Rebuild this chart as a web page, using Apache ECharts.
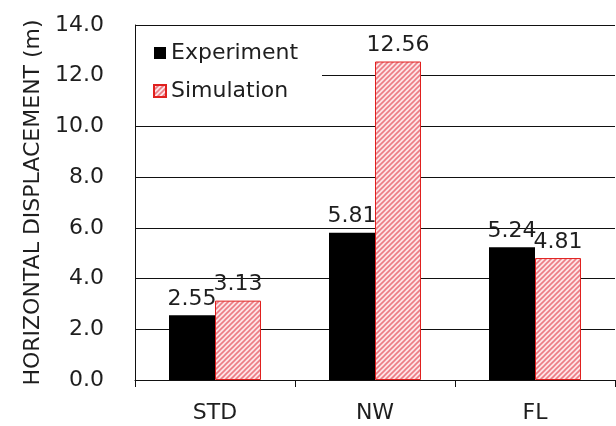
<!DOCTYPE html>
<html><head><meta charset="utf-8">
<script src="https://cdn.jsdelivr.net/npm/echarts@6/dist/echarts.min.js"></script>
<style>html,body{margin:0;padding:0;background:#fff}#c{width:616px;height:426px}</style>
</head><body><div id="c"></div>
<script>
var categories = ['STD', 'NW', 'FL'];
var experiment = [2.55, 5.81, 5.24];
var simulation = [3.13, 12.56, 4.81];
var yTicks = [0, 2, 4, 6, 8, 10, 12, 14];

var FONT = 'DejaVu Sans';
var TXT = '#1e1e1e';

function hatch() {
  var s = 5;
  var c = document.createElement('canvas');
  c.width = s; c.height = s;
  var g = c.getContext('2d');
  g.fillStyle = '#fde4e6';
  g.fillRect(0, 0, s, s);
  g.strokeStyle = '#ec7c84';
  g.lineWidth = 1.6;
  g.beginPath();
  g.moveTo(0, s); g.lineTo(s, 0);
  g.moveTo(-1, 1); g.lineTo(1, -1);
  g.moveTo(s - 1, s + 1); g.lineTo(s + 1, s - 1);
  g.stroke();
  return c;
}

var chart = echarts.init(document.getElementById('c'), null, {renderer: 'canvas'});
chart.setOption({
  animation: false,
  backgroundColor: '#fff',
  grid: {left: 135, right: 1, top: 25, bottom: 46, containLabel: false},
  graphic: [{type: 'rect', left: 136, top: 26, shape: {width: 186, height: 86}, style: {fill: '#fff'}, z: 10}],
  legend: {
    z: 20,
    left: 153, top: 42, orient: 'vertical', padding: 0,
    icon: 'rect',
    itemWidth: 12, itemHeight: 12, itemGap: 16,
    textStyle: {fontFamily: FONT, fontSize: 22, color: TXT},
    data: ['Experiment', 'Simulation']
  },
  xAxis: {
    type: 'category', data: categories,
    axisLine: {lineStyle: {color: '#111', width: 1}},
    axisTick: {show: true, length: 7, interval: 0, lineStyle: {color: '#111'}},
    axisLabel: {fontFamily: FONT, fontSize: 22, color: TXT, margin: 22}
  },
  yAxis: {
    type: 'value', min: yTicks[0], max: yTicks[yTicks.length - 1], interval: 2,
    name: 'HORIZONTAL DISPLACEMENT (m)', nameLocation: 'middle', nameGap: 90,
    nameTextStyle: {fontFamily: FONT, fontSize: 22, color: TXT},
    axisLine: {show: true, lineStyle: {color: '#111', width: 1}},
    axisTick: {show: false},
    splitLine: {show: true, lineStyle: {color: '#111', width: 1}},
    axisLabel: {fontFamily: FONT, fontSize: 22, color: TXT, margin: 31,
      formatter: function (v) { return v.toFixed(1); }}
  },
  series: [
    {name: 'Experiment', type: 'bar', data: experiment, barWidth: 46, barGap: '0%',
     itemStyle: {color: '#000'},
     label: {show: true, position: 'top', distance: 5, fontFamily: FONT, fontSize: 22, color: TXT,
       formatter: function (p) { return p.value.toFixed(2); }}},
    {name: 'Simulation', type: 'bar', data: simulation, barWidth: 46, barGap: '0%',
     itemStyle: {color: {image: hatch(), repeat: 'repeat'}, borderColor: '#e0201e', borderWidth: 1},
     label: {show: true, position: 'top', distance: 5, fontFamily: FONT, fontSize: 22, color: TXT,
       formatter: function (p) { return p.value.toFixed(2); }}}
  ]
});
</script></body></html>
